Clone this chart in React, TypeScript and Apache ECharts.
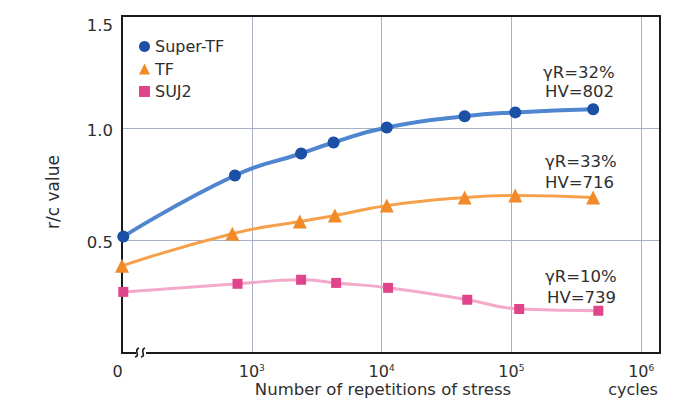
import React, { useEffect, useRef } from "react";
import * as echarts from "echarts";

// log10 of number of cycles (2 = the "0" origin, left edge)
const superTfX = [2.01, 2.87, 3.38, 3.63, 4.04, 4.64, 5.03, 5.63];
const superTfY = [0.518, 0.79, 0.888, 0.937, 1.004, 1.054, 1.071, 1.085];
const tfX = [2.0, 2.85, 3.37, 3.64, 4.04, 4.64, 5.03, 5.63];
const tfY = [0.388, 0.531, 0.585, 0.612, 0.656, 0.692, 0.701, 0.692];
const suj2X = [2.01, 2.89, 3.38, 3.65, 4.05, 4.66, 5.06, 5.67];
const suj2Y = [0.272, 0.308, 0.326, 0.312, 0.29, 0.237, 0.196, 0.188];

const seriesNames = ["Super-TF", "TF", "SUJ2"];
const yTicks = [0.5, 1.0, 1.5];
const xDecades = [3, 4, 5, 6];
const notes = [
  ["γR=32%", "HV=802"],
  ["γR=33%", "HV=716"],
  ["γR=10%", "HV=739"],
];

const FONT = "DejaVu Sans, Liberation Sans, Arial, sans-serif";
const TXT = "#2e2e2e";

const zip = (xs: number[], ys: number[]) => xs.map((x, i) => [x, ys[i]]);

export default function App() {
  const ref = useRef<HTMLDivElement>(null);
  useEffect(() => {
    if (!ref.current) return;
    const chart = echarts.init(ref.current, undefined, { renderer: "svg" });
    const noteStyle = { fill: TXT, fontSize: 16.5, fontFamily: FONT };
    const noteText = (x: number, y: number, t: string) => ({
      type: "text",
      x,
      y,
      z: 10,
      style: { ...noteStyle, text: t, verticalAlign: "middle" },
    });
    chart.setOption({
      animation: false,
      backgroundColor: "#ffffff",
      textStyle: { fontFamily: FONT },
      grid: {
        left: 122,
        right: 23,
        top: 16,
        bottom: 48,
      },
      legend: {
        orient: "vertical",
        left: 139,
        top: 38,
        padding: 0,
        itemWidth: 11,
        itemHeight: 11,
        itemGap: 5.5,
        textStyle: { fontSize: 16, color: TXT, fontFamily: FONT, lineHeight: 17 },
        data: [
          { name: seriesNames[0], icon: "circle" },
          { name: seriesNames[1], icon: "triangle" },
          { name: seriesNames[2], icon: "rect" },
        ],
      },
      xAxis: {
        type: "value",
        min: 2,
        max: 6.145,
        interval: 1,
        axisLine: { show: false },
        axisTick: { show: false },
        splitLine: { show: true, lineStyle: { color: "#a9b1c8", width: 1 } },
        axisLabel: {
          margin: 10,
          color: TXT,
          fontFamily: FONT,
          formatter: (v: number) => {
            if (Math.abs(v - 2) < 1e-6) return "{z|0}";
            if (xDecades.some((d) => Math.abs(v - d) < 1e-6))
              return "{b|10}{s|" + Math.round(v) + "}";
            return "";
          },
          rich: {
            z: { fontSize: 16, color: TXT, fontFamily: FONT, padding: [0, 9, 0, 0], lineHeight: 17 },
            b: { fontSize: 16, color: TXT, fontFamily: FONT, lineHeight: 17 },
            s: { fontSize: 9, color: TXT, fontFamily: FONT, verticalAlign: "top", lineHeight: 9 },
          },
        },
      },
      yAxis: {
        type: "value",
        min: 0,
        max: 1.5,
        interval: 0.5,
        axisLine: { show: false },
        axisTick: { show: false },
        splitLine: { show: true, lineStyle: { color: "#a9b1c8", width: 1 } },
        axisLabel: {
          margin: 9,
          color: TXT,
          fontFamily: FONT,
          formatter: (v: number) => {
            if (!yTicks.some((t) => Math.abs(t - v) < 1e-6)) return "";
            return v === 1.5 ? "{t|" + v.toFixed(1) + "}" : "{n|" + v.toFixed(1) + "}";
          },
          rich: {
            t: { fontSize: 16.5, color: TXT, fontFamily: FONT, padding: [18, 0, 0, 0] },
            n: { fontSize: 16.5, color: TXT, fontFamily: FONT, padding: [4, 0, 0, 0] },
          },
        },
      },
      series: [
        {
          name: seriesNames[2],
          type: "line",
          data: zip(suj2X, suj2Y),
          smooth: 0.5,
          symbol: "rect",
          symbolSize: 10,
          itemStyle: { color: "#e0458c", borderWidth: 0 },
          lineStyle: { color: "#f3a9c9", width: 3 },
          z: 3,
        },
        {
          name: seriesNames[1],
          type: "line",
          data: zip(tfX, tfY),
          smooth: 0.5,
          symbol: "triangle",
          symbolSize: 14,
          itemStyle: { color: "#f28a2a", borderWidth: 0 },
          lineStyle: { color: "#f6a04c", width: 3 },
          z: 4,
        },
        {
          name: seriesNames[0],
          type: "line",
          data: zip(superTfX, superTfY),
          smooth: 0.5,
          symbol: "circle",
          symbolSize: 12,
          itemStyle: { color: "#1c4fa6", borderWidth: 0 },
          lineStyle: { color: "#4f86cf", width: 4 },
          z: 5,
        },
      ],
      graphic: [
        {
          type: "rect",
          shape: { x: 122, y: 16, width: 538, height: 337 },
          style: { fill: null, stroke: "#1a1a1a", lineWidth: 2 },
          z: 1,
        },
        noteText(543, 72, notes[0][0]),
        noteText(545, 91, notes[0][1]),
        noteText(545, 161, notes[1][0]),
        noteText(545, 182, notes[1][1]),
        noteText(545, 276, notes[2][0]),
        noteText(547, 297, notes[2][1]),
        {
          type: "text",
          x: 53,
          y: 192,
          rotation: Math.PI / 2,
          style: {
            text: "r/c value",
            fill: TXT,
            fontSize: 17,
            fontFamily: FONT,
            align: "center",
            verticalAlign: "middle",
          },
        },
        {
          type: "text",
          x: 383,
          y: 389,
          style: {
            text: "Number of repetitions of stress",
            fill: TXT,
            fontSize: 16.5,
            fontFamily: FONT,
            align: "center",
            verticalAlign: "middle",
          },
        },
        {
          type: "text",
          x: 633,
          y: 389,
          style: {
            text: "cycles",
            fill: TXT,
            fontSize: 16,
            fontFamily: FONT,
            align: "center",
            verticalAlign: "middle",
          },
        },
        {
          type: "rect",
          shape: { x: 136, y: 350, width: 10, height: 6 },
          style: { fill: "#ffffff" },
          z: 20,
        },
        {
          type: "bezierCurve",
          shape: { x1: 135, y1: 357, cpx1: 141, cpy1: 356, cpx2: 133, cpy2: 350, x2: 139, y2: 348 },
          style: { stroke: "#1a1a1a", lineWidth: 1.6, fill: null },
          z: 21,
        },
        {
          type: "bezierCurve",
          shape: { x1: 141, y1: 357, cpx1: 147, cpy1: 356, cpx2: 139, cpy2: 350, x2: 145, y2: 348 },
          style: { stroke: "#1a1a1a", lineWidth: 1.6, fill: null },
          z: 21,
        },
      ],
    });
    return () => chart.dispose();
  }, []);
  return (
    <div
      ref={ref}
      style={{ position: "absolute", left: 0, top: 0, width: 683, height: 401 }}
    />
  );
}
